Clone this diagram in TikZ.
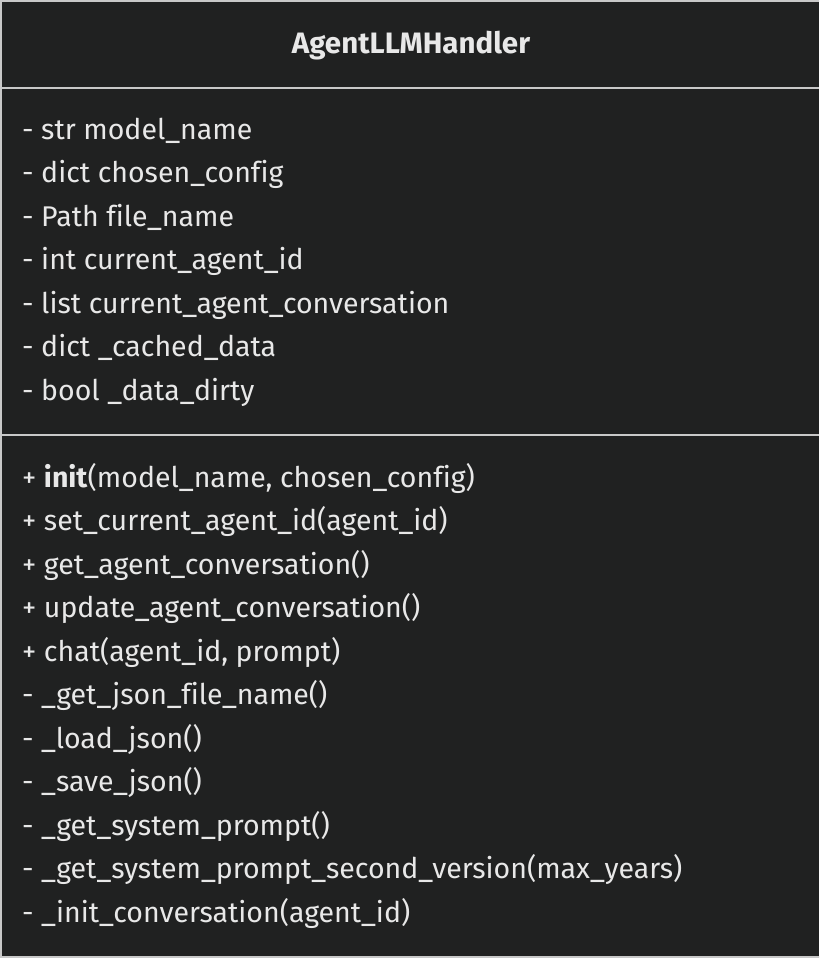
\documentclass[tikz,border=0pt]{standalone}
\usepackage{fontspec}
\setmainfont[Ligatures={NoCommon}]{Fira Sans}
\definecolor{bgc}{HTML}{202121}
\definecolor{linec}{HTML}{C8C8C8}
\definecolor{txtc}{HTML}{E8E8E8}
\tikzset{
  member/.style={anchor=base west, inner sep=0pt, text=txtc, font=\fontsize{28.5}{32}\selectfont},
  titlestyle/.style={anchor=base, inner sep=0pt, text=txtc, font=\fontsize{29.5}{33}\selectfont\bfseries},
  sep/.style={draw=linec, line width=2pt}
}
\begin{document}
\begin{tikzpicture}[x=1pt,y=-1pt]
\useasboundingbox (0,0) rectangle (819,958);
\clip (0,0) rectangle (819,958);
\fill[bgc] (0,0) rectangle (819,958);
\draw[sep] (1,1) rectangle (830,957);
\coordinate (sepAl) at (0,87.5);
\coordinate (sepAr) at (819,87.5);
\coordinate (sepBl) at (0,434.5);
\coordinate (sepBr) at (819,434.5);
\draw[sep] (sepAl) -- (sepAr);
\draw[sep] (sepBl) -- (sepBr);
\node[titlestyle] (title) at (411,53) {AgentLLMHandler};
\node[member] (a1) at (22,139) {- str model\_name};
\node[member] (a2) at (22,182.5) {- dict chosen\_config};
\node[member] (a3) at (22,226) {- Path file\_name};
\node[member] (a4) at (22,269.5) {- int current\_agent\_id};
\node[member] (a5) at (22,313) {- list current\_agent\_conversation};
\node[member] (a6) at (22,356.5) {- dict \_cached\_data};
\node[member] (a7) at (22,400) {- bool \_data\_dirty};
\node[member] (m1) at (22,487) {+ \textbf{init}(model\_name, chosen\_config)};
\node[member] (m2) at (22,530.5) {+ set\_current\_agent\_id(agent\_id)};
\node[member] (m3) at (22,574) {+ get\_agent\_conversation()};
\node[member] (m4) at (22,617.5) {+ update\_agent\_conversation()};
\node[member] (m5) at (22,661) {+ chat(agent\_id, prompt)};
\node[member] (m6) at (22,704.5) {- \_get\_json\_file\_name()};
\node[member] (m7) at (22,748) {- \_load\_json()};
\node[member] (m8) at (22,791.5) {- \_save\_json()};
\node[member] (m9) at (22,835) {- \_get\_system\_prompt()};
\node[member] (m10) at (22,878.5) {- \_get\_system\_prompt\_second\_version(max\_years)};
\node[member] (m11) at (22,922) {- \_init\_conversation(agent\_id)};
\end{tikzpicture}
\end{document}
